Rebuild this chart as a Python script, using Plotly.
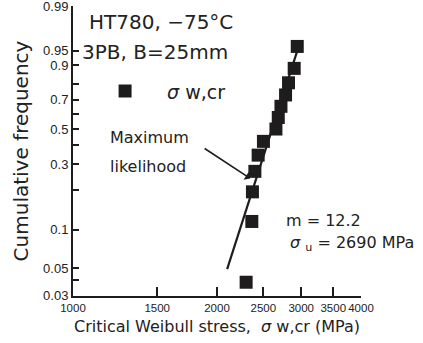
import numpy as np
import plotly.graph_objects as go

# ---- data ----
sigma_wcr = [2301, 2365, 2372, 2400, 2438, 2501, 2656, 2686, 2721, 2782, 2822, 2900, 2943]
cum_freq = [0.0385, 0.1154, 0.1923, 0.2692, 0.3462, 0.4231, 0.5, 0.5769,
            0.6538, 0.7308, 0.8077, 0.8846, 0.9615]
fit_sigma = [2100, 2950]
fit_freq = [0.049, 0.954]

x_tick_vals = [1000, 1500, 2000, 2500, 3000, 3500, 4000]
x_tick_text = ["1000", "1500", "2000", "2500", "3000", "3500", "4000"]
y_tick_probs = [0.03, 0.05, 0.1, 0.3, 0.5, 0.7, 0.9, 0.95, 0.999]
y_tick_text = ["0.03", "0.05", "0.1", "0.3", "0.5", "0.7", "0.9", "0.95", "0.99"]
y_minor_probs = [0.04, 0.2, 0.4, 0.6, 0.8]


def weibull_scale(p):
    p = np.asarray(p, dtype=float)
    return np.log(-np.log(1.0 - p))


INK = "#1e1c1d"
TXT = "DejaVu Sans"
TICKF = "Liberation Sans"

fig = go.Figure()
fig.add_trace(go.Scatter(
    x=fit_sigma, y=weibull_scale(fit_freq), mode="lines",
    line=dict(color=INK, width=2.2), showlegend=False, hoverinfo="skip"))
fig.add_trace(go.Scatter(
    x=sigma_wcr, y=weibull_scale(cum_freq), mode="markers",
    marker=dict(symbol="square", size=13, color=INK, line=dict(width=0)),
    name="<i>σ</i> w,cr", showlegend=True))

y_lo = float(weibull_scale([0.03])[0]) - 0.004
y_hi = float(weibull_scale([0.999])[0]) + 0.006

fig.update_layout(
    width=423, height=343,
    margin=dict(l=73, r=62, t=6, b=47),
    paper_bgcolor="white", plot_bgcolor="white",
    font=dict(family=TXT, color="#222", size=16),
    showlegend=True,
    legend=dict(x=0.035, y=0.706, xanchor="left", yanchor="middle",
                bgcolor="rgba(0,0,0,0)", itemwidth=74,
                font=dict(family=TXT, size=19, color="#222")),
    xaxis=dict(type="log", range=[np.log10(1000), np.log10(4000)],
               tickmode="array", tickvals=x_tick_vals, ticktext=x_tick_text,
               tickangle=0, automargin=False, ticklabeloverflow="allow",
               ticks="inside", ticklen=9, tickwidth=2, tickcolor=INK,
               showline=True, linewidth=2, linecolor=INK, mirror=False,
               showgrid=False, zeroline=False,
               tickfont=dict(family=TICKF, size=11.5, color="#222"),
               title=dict(text="Critical Weibull stress,  <i>σ</i> w,cr (MPa)",
                          font=dict(family=TXT, size=16, color="#222"), standoff=8)),
    yaxis=dict(range=[y_lo, y_hi], automargin=False, ticklabeloverflow="allow",
               tickmode="array", tickvals=weibull_scale(y_tick_probs), ticktext=y_tick_text,
               ticks="inside", ticklen=6, tickwidth=2, tickcolor=INK,
               minor=dict(tickmode="array", tickvals=weibull_scale(y_minor_probs),
                          ticks="inside", ticklen=6, tickwidth=2, tickcolor=INK,
                          showgrid=False),
               showline=True, linewidth=2, linecolor=INK, mirror=False,
               showgrid=False, zeroline=False,
               tickfont=dict(family=TICKF, size=13, color="#222"),
               title=dict(text="Cumulative frequency",
                          font=dict(family=TXT, size=20, color="#222"), standoff=9)),
)

ann = [
    dict(text="HT780, −75°C", x=0.048, y=0.945, size=20),
    dict(text="3PB, B=25mm", x=0.023, y=0.841, size=20),
    dict(text="Maximum", x=0.123, y=0.545, size=16),
    dict(text="likelihood", x=0.123, y=0.447, size=16),
    dict(text="m = 12.2", x=0.733, y=0.259, size=16),
    dict(text="<i>σ</i> <sub>u</sub> = 2690 MPa", x=0.745, y=0.182, size=16),
]
for a in ann:
    fig.add_annotation(text=a["text"], x=a["x"], y=a["y"], xref="paper", yref="paper",
                       xanchor="left", yanchor="middle", showarrow=False,
                       font=dict(family=TXT, size=a["size"], color="#222"))

# arrow pointing at the maximum likelihood fit line
fig.add_annotation(x=np.log10(2346), y=-1.293, xref="x", yref="y", text="",
                   showarrow=True, arrowhead=1, arrowsize=1, arrowwidth=1.6,
                   arrowcolor=INK, ax=-47, ay=-31)

fig.write_html("out.html", config={"displayModeBar": False},
               post_script="document.body.style.margin='0';document.body.style.padding='0';")
